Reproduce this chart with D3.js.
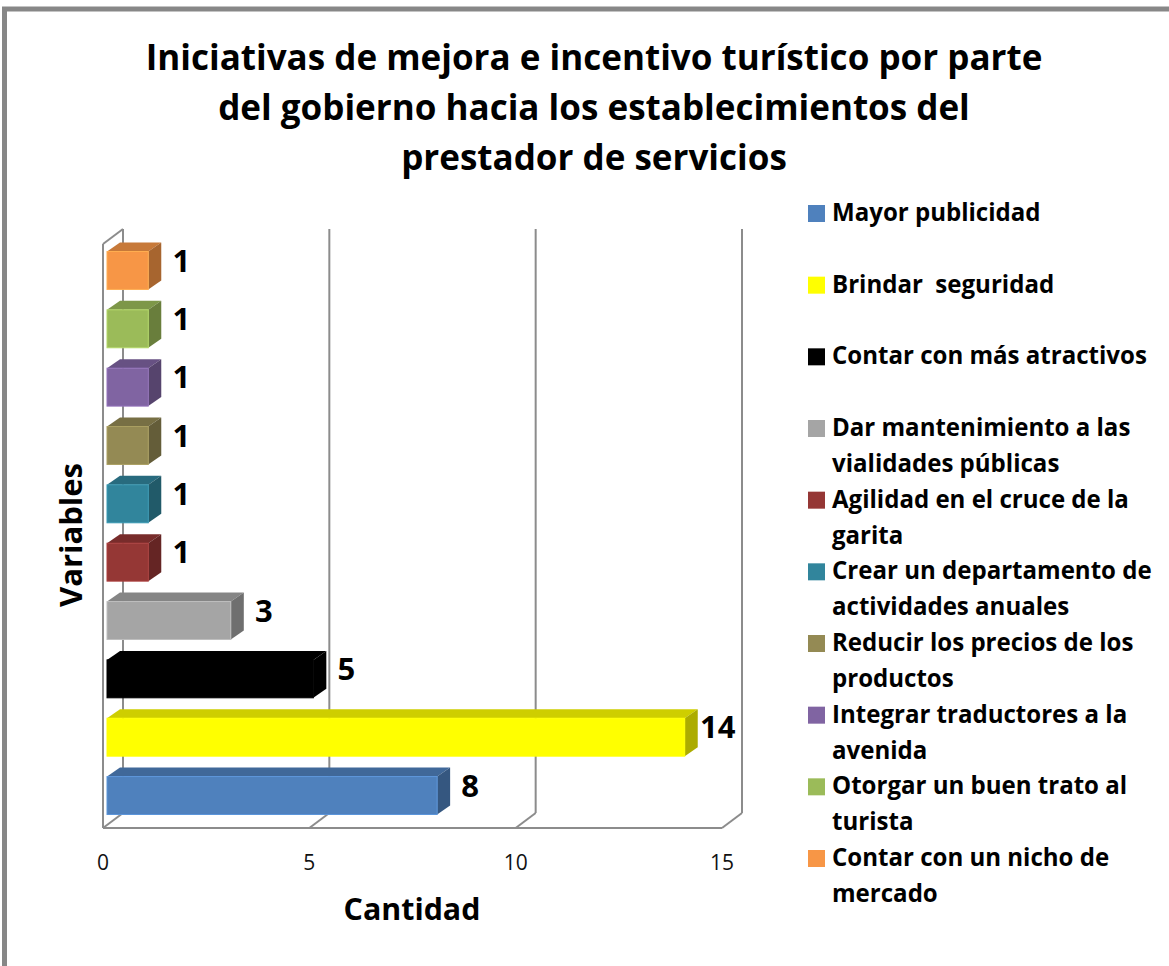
<!DOCTYPE html>
<html>
<head>
<meta charset="utf-8">
<script src="https://cdn.jsdelivr.net/npm/d3@7"></script>
<style>
  body { margin: 0; background: #fff; }
  text { font-family: "Open Sans", sans-serif; }
</style>
</head>
<body>
<script>
// data, bottom bar first
var categories = ["Mayor publicidad", "Brindar  seguridad", "Contar con más atractivos",
  "Dar mantenimiento a las vialidades públicas", "Agilidad en el cruce de la garita",
  "Crear un departamento de actividades anuales", "Reducir los precios de los productos",
  "Integrar traductores a la avenida", "Otorgar un buen trato al turista",
  "Contar con un nicho de mercado"];
var values = [8, 14, 5, 3, 1, 1, 1, 1, 1, 1];
var colors = ["#4F81BD", "#FFFF00", "#000000", "#A5A5A5", "#953735",
  "#31859C", "#948A54", "#8064A2", "#9BBB59", "#F79646"];
var xTicks = [0, 5, 10, 15];
var titleLines = ["Iniciativas de mejora e incentivo turístico por parte",
  "del gobierno hacia los establecimientos del",
  "prestador de servicios"];

var W = 1169, H = 966;
var svg = d3.select("body").append("svg").attr("width", W).attr("height", H);

// scale the font so the text gets the wanted width
function fitFont(sel, target) {
  var w = sel.node().getComputedTextLength();
  var fs = parseFloat(sel.attr("font-size"));
  var nfs = fs * target / w;
  sel.attr("font-size", nfs);
  return nfs;
}

// outer frame (runs off the right and bottom edges)
svg.append("rect").attr("x", 4.5).attr("y", 9).attr("width", W + 20).attr("height", H + 20)
  .attr("fill", "none").attr("stroke", "#878787").attr("stroke-width", 5);

// title
var t1 = svg.append("text").attr("x", 594).attr("y", 70).attr("text-anchor", "middle")
  .attr("font-weight", "bold").attr("font-size", 34).text(titleLines[0]);
var titleSize = fitFont(t1, 897);
svg.selectAll(".tl").data(titleLines.slice(1)).enter().append("text")
  .attr("class", "tl").attr("x", 594).attr("y", function(d, i) { return 120 + i * 50; })
  .attr("text-anchor", "middle").attr("font-weight", "bold").attr("font-size", titleSize)
  .text(function(d) { return d; });

// 3d geometry
var depth = {dx: 20, dy: 15};   // wall depth
var barDepth = {dx: 13, dy: 9}; // bar depth
var floorY = 828, wallTop = 244;

var xFloor = d3.scaleLinear().domain([0, 15]).range([103, 722]);
var x = d3.scaleLinear().domain([0, 15]).range([107, 726]);
var y = d3.scaleBand().domain(d3.range(categories.length).reverse())
  .range([241.3, 824.7]).paddingInner(0.35).paddingOuter(0.175);

var grid = svg.append("g").attr("stroke", "#8c8c8c").attr("stroke-width", 2).attr("fill", "none");
// left walls
grid.append("line").attr("x1", xFloor(0)).attr("x2", xFloor(0)).attr("y1", wallTop).attr("y2", floorY);
grid.append("line").attr("x1", xFloor(0)).attr("x2", xFloor(0) + depth.dx)
  .attr("y1", wallTop).attr("y2", wallTop - depth.dy);
grid.append("line").attr("x1", xFloor(0) + depth.dx).attr("x2", xFloor(0) + depth.dx)
  .attr("y1", wallTop - depth.dy).attr("y2", floorY - depth.dy);
// floor front edge
grid.append("line").attr("x1", xFloor(0)).attr("x2", xFloor(15)).attr("y1", floorY).attr("y2", floorY);
// grid lines: floor diagonal + back wall vertical
xTicks.forEach(function(v) {
  grid.append("line").attr("x1", xFloor(v)).attr("x2", xFloor(v) + depth.dx)
    .attr("y1", floorY).attr("y2", floorY - depth.dy);
  if (v > 0) {
    grid.append("line").attr("x1", xFloor(v) + depth.dx).attr("x2", xFloor(v) + depth.dx)
      .attr("y1", floorY - depth.dy).attr("y2", wallTop - depth.dy);
  }
});

// tick labels
svg.selectAll(".tick").data(xTicks).enter().append("text")
  .attr("class", "tick").attr("x", function(d) { return xFloor(d); }).attr("y", 870)
  .attr("text-anchor", "middle").attr("font-size", 21).attr("fill", "#111")
  .text(function(d) { return d; });

// bars
var bars = svg.selectAll(".bar").data(values).enter().append("g").attr("class", "bar");
bars.each(function(v, i) {
  var g = d3.select(this);
  var x0 = x(0), x1 = x(v), y0 = y(i), bw = y.bandwidth();
  var c = d3.color(colors[i]);
  var top = colors[i] === "#000000" ? "#000" : c.darker(0.6);
  var side = colors[i] === "#000000" ? "#000" : c.darker(1.1);
  g.append("polygon").attr("fill", top)
    .attr("points", [[x0, y0], [x0 + barDepth.dx, y0 - barDepth.dy],
      [x1 + barDepth.dx, y0 - barDepth.dy], [x1, y0]].join(" "));
  g.append("polygon").attr("fill", side)
    .attr("points", [[x1, y0], [x1 + barDepth.dx, y0 - barDepth.dy],
      [x1 + barDepth.dx, y0 + bw - barDepth.dy], [x1, y0 + bw]].join(" "));
  g.append("rect").attr("x", x0).attr("y", y0).attr("width", x1 - x0).attr("height", bw)
    .attr("fill", c).attr("stroke", colors[i] === "#000000" ? "#000" : c.brighter(0.4))
    .attr("stroke-width", 1);
});

// value labels
svg.selectAll(".val").data(values).enter().append("text")
  .attr("class", "val")
  .attr("x", function(d) { return x(d) + barDepth.dx + 20; })
  .attr("y", function(d, i) { return y(i) + y.bandwidth() / 2 - 10; })
  .attr("dy", "0.36em").attr("text-anchor", "middle")
  .attr("font-weight", "bold").attr("font-size", 31)
  .text(function(d) { return d; });

// axis titles
var xt = svg.append("text").attr("x", 412).attr("y", 920).attr("text-anchor", "middle")
  .attr("font-weight", "bold").attr("font-size", 30).text("Cantidad");
fitFont(xt, 137);
var yt = svg.append("text").attr("transform", "translate(82,535) rotate(-90)")
  .attr("text-anchor", "middle").attr("font-weight", "bold").attr("font-size", 30).text("Variables");
fitFont(yt, 144);

// legend
var ly = d3.scalePoint().domain(d3.range(categories.length)).range([221, 866]);
var probe = svg.append("text").attr("font-weight", "bold").attr("font-size", 24)
  .text("Contar con más atractivos");
var legSize = fitFont(probe, 315);
probe.remove();

var legend = svg.append("g");
categories.forEach(function(cat, i) {
  var row = legend.append("g");
  row.append("rect").attr("x", 808).attr("y", ly(i) - 16).attr("width", 17).attr("height", 17)
    .attr("fill", colors[i]);
  var txt = row.append("text").attr("x", 832).attr("y", ly(i))
    .attr("font-weight", "bold").attr("font-size", legSize).style("white-space", "pre");
  // wrap words so each line stays inside the legend
  var maxW = 332;
  var words = cat.split(" "), line = [], lines = [];
  txt.text(cat);
  if (txt.node().getComputedTextLength() <= maxW) {
    lines = [cat];
  } else {
    words.forEach(function(w) {
      line.push(w);
      txt.text(line.join(" "));
      if (txt.node().getComputedTextLength() > maxW && line.length > 1) {
        line.pop();
        lines.push(line.join(" "));
        line = [w];
      }
    });
    lines.push(line.join(" "));
  }
  txt.text(null);
  lines.forEach(function(l, k) {
    txt.append("tspan").attr("x", 832).attr("dy", k === 0 ? 0 : 36).text(l);
  });
});
</script>
</body>
</html>
